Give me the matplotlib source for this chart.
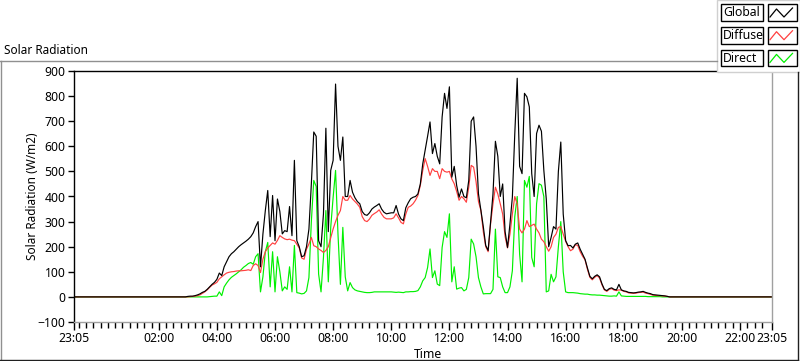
import numpy as np
import matplotlib
matplotlib.use("Agg")
import matplotlib.pyplot as plt
from matplotlib.patches import Rectangle
from matplotlib.lines import Line2D

plt.rcParams['font.family'] = ['Noto Sans', 'DejaVu Sans']

W, H = 800, 361

# 5 minute samples from 03:00 to 19:40 (W/m2)
global_day = [
    2, 3, 3, 5, 8, 12, 18, 22, 30, 40, 50, 58,
    70, 95, 85, 120, 140, 160, 172, 180, 190, 200, 208, 215,
    222, 230, 240, 255, 280, 300, 120, 250, 344, 424, 240, 404,
    224, 390, 340, 251, 264, 260, 360, 244, 544, 224, 200, 160,
    164, 200, 270, 450, 657, 640, 224, 200, 330, 672, 260, 504,
    544, 848, 600, 544, 637, 400, 400, 464, 417, 395, 380, 371,
    340, 328, 325, 335, 350, 358, 364, 371, 350, 337, 331, 333,
    335, 335, 364, 330, 311, 304, 355, 375, 391, 397, 400, 410,
    450, 530, 584, 640, 697, 571, 611, 560, 530, 717, 811, 751,
    837, 477, 520, 444, 397, 430, 400, 395, 464, 700, 717, 600,
    411, 345, 280, 205, 185, 300, 410, 620, 560, 400, 450, 260,
    197, 290, 397, 650, 871, 520, 491, 811, 797, 757, 491, 400,
    651, 684, 660, 504, 390, 200, 237, 280, 270, 500, 617, 330,
    224, 204, 205, 195, 210, 215, 190, 170, 150, 115, 82, 72,
    82, 88, 80, 52, 30, 25, 33, 36, 30, 28, 50, 28,
    24, 22, 18, 17, 16, 17, 19, 20, 22, 18, 15, 13,
    9, 8, 7, 6, 5, 4, 2, 0, 0,
]
diffuse_day = [
    0, 1, 2, 3, 5, 8, 14, 20, 28, 38, 47, 52,
    58, 72, 80, 88, 95, 98, 100, 101, 103, 104, 104, 105,
    106, 108, 105, 125, 132, 125, 97, 150, 180, 195, 205, 215,
    210, 225, 244, 237, 231, 228, 230, 226, 224, 210, 195, 155,
    150, 190, 211, 237, 204, 200, 191, 185, 177, 185, 200, 235,
    271, 300, 325, 344, 400, 385, 385, 404, 390, 380, 370, 357,
    320, 304, 300, 310, 325, 332, 338, 347, 330, 317, 311, 311,
    311, 315, 331, 315, 297, 291, 330, 357, 362, 371, 385, 404,
    444, 504, 551, 520, 484, 511, 500, 500, 471, 511, 500, 497,
    500, 470, 451, 420, 385, 400, 391, 377, 437, 524, 517, 460,
    380, 345, 260, 200, 180, 290, 371, 437, 410, 371, 330, 240,
    195, 250, 330, 400, 370, 270, 255, 270, 304, 280, 285, 290,
    270, 255, 230, 220, 200, 182, 200, 237, 250, 277, 280, 250,
    222, 200, 184, 190, 208, 205, 180, 162, 148, 110, 78, 68,
    78, 85, 75, 48, 28, 22, 30, 33, 27, 25, 28, 27,
    22, 20, 16, 15, 14, 15, 17, 18, 19, 15, 13, 10,
    7, 6, 5, 5, 4, 3, 2, 0, 0,
]
direct_day = [
    0, 0, 0, 0, 0, 0, 0, 0, 0, 1, 2, 3,
    3, 20, 5, 40, 55, 68, 78, 85, 92, 100, 108, 118,
    125, 133, 137, 130, 160, 172, 20, 80, 180, 217, 40, 180,
    20, 160, 100, 24, 40, 30, 120, 20, 205, 17, 15, 12,
    14, 24, 77, 300, 464, 440, 91, 20, 157, 344, 60, 277,
    397, 504, 250, 50, 277, 80, 24, 57, 37, 28, 24, 22,
    20, 18, 17, 17, 18, 20, 20, 20, 20, 20, 20, 20,
    20, 19, 18, 19, 18, 17, 20, 20, 21, 21, 22, 25,
    40, 64, 77, 117, 191, 77, 104, 51, 45, 197, 260, 237,
    331, 60, 120, 31, 35, 37, 24, 30, 77, 230, 211, 160,
    77, 40, 12, 13, 13, 13, 30, 270, 80, 77, 40, 17,
    17, 40, 104, 320, 400, 170, 60, 464, 437, 480, 157, 120,
    371, 451, 445, 400, 20, 24, 90, 60, 80, 200, 300, 100,
    20, 17, 17, 17, 16, 15, 13, 12, 11, 11, 9, 8,
    8, 7, 7, 6, 5, 4, 3, 3, 4, 3, 20, 4,
    3, 2, 2, 2, 2, 2, 2, 2, 2, 2, 1, 1,
    1, 1, 1, 1, 0, 0, 0, 0, 0,
]
# zero readings overnight: 23:05..02:55 and 19:45..23:05
night_before = [0] * 47
night_after = [0] * 41

tick_hours = [-55 / 60, 2, 4, 6, 8, 10, 12, 14, 16, 18, 20, 22, 23 + 5 / 60]
tick_labels = ['23:05', '02:00', '04:00', '06:00', '08:00', '10:00', '12:00',
               '14:00', '16:00', '18:00', '20:00', '22:00', '23:05']

series = [
    ('Direct', direct_day, '#00f000'),
    ('Diffuse', diffuse_day, '#ff4040'),
    ('Global', global_day, '#000000'),
]


def px(x, y):
    return x / W, 1 - y / H


fig = plt.figure(figsize=(W / 100, H / 100), dpi=100)
fig.patch.set_facecolor('white')

x0, y0 = px(74, 322)
x1, y1 = px(771.5, 71)
ax = fig.add_axes([x0, y0, x1 - x0, y1 - y0])

hours = np.arange(289) * 5 / 60 - 55 / 60
for name, day, color in series:
    vals = np.array(night_before + day + night_after, dtype=float)
    ax.plot(hours, vals, color=color, lw=0.85)

ax.set_xlim(tick_hours[0], tick_hours[-1])
ax.set_ylim(-100, 900)
ax.set_yticks(np.arange(-100, 901, 100))
ax.set_xticks(tick_hours)
ax.set_xticklabels(tick_labels)
ax.set_xticks(np.arange(-0.75, 23.0, 0.25), minor=True)
ax.tick_params(axis='both', labelsize=8.8, color='black', width=1, pad=2)
ax.tick_params(axis='x', which='major', length=6, pad=1)
ax.tick_params(axis='x', which='minor', length=4, width=1)
ax.tick_params(axis='y', length=4)
for side in ('left', 'top'):
    ax.spines[side].set_color('black')
for side in ('right', 'bottom'):
    ax.spines[side].set_color('#a0a0a0')
for sp in ax.spines.values():
    sp.set_linewidth(1.0)

# labels
fig.text(*px(4, 50), 'Solar Radiation', fontsize=8.5, va='center', ha='left')
fig.text(*px(33, 196), 'Solar Radiation (W/m2)', fontsize=8.5, rotation=90,
         va='center', ha='center')
fig.text(*px(428, 354), 'Time', fontsize=8.8, va='center', ha='center')

# outer frame
fig.add_artist(Line2D([0, 717 / W], [1 - 61 / H] * 2, color='#909090', lw=1))
fig.add_artist(Line2D([0.5 / W] * 2, [1 - 61 / H, 1 - 359 / H], color='#909090', lw=1))
fig.add_artist(Line2D([0, 798 / W], [1 - 359.5 / H] * 2, color='#202020', lw=1))
fig.add_artist(Line2D([798 / W] * 2, [1 - 72 / H, 1 - 359.5 / H], color='#202020', lw=1))

# legend
lx, ly = px(717, 72)
fig.add_artist(Rectangle((lx, ly), 83 / W, 72 / H, transform=fig.transFigure,
                         facecolor='white', edgecolor='#d0d0d0', lw=1))
legend_rows = [('Global', '#000000'), ('Diffuse', '#ff4040'), ('Direct', '#00f000')]
for i, (name, color) in enumerate(legend_rows):
    top = 4.5 + i * 22.7
    bx, by = px(721, top + 16.5)
    fig.add_artist(Rectangle((bx, by), 41.5 / W, 16.5 / H, transform=fig.transFigure,
                             facecolor='white', edgecolor='black', lw=1))
    fig.text(*px(723, top + 8.5), name, fontsize=8.8, va='center', ha='left')
    ix, iy = px(768, top + 16.5)
    fig.add_artist(Rectangle((ix, iy), 29 / W, 16.5 / H, transform=fig.transFigure,
                             facecolor='white', edgecolor='black', lw=1))
    zx = np.array([770, 776.5, 784, 792.5]) / W
    zy = 1 - (top + np.array([12.5, 4.5, 12.5, 3.5])) / H
    fig.add_artist(Line2D(zx, zy, color=color, lw=0.9))

fig.savefig('out.png', dpi=100)
